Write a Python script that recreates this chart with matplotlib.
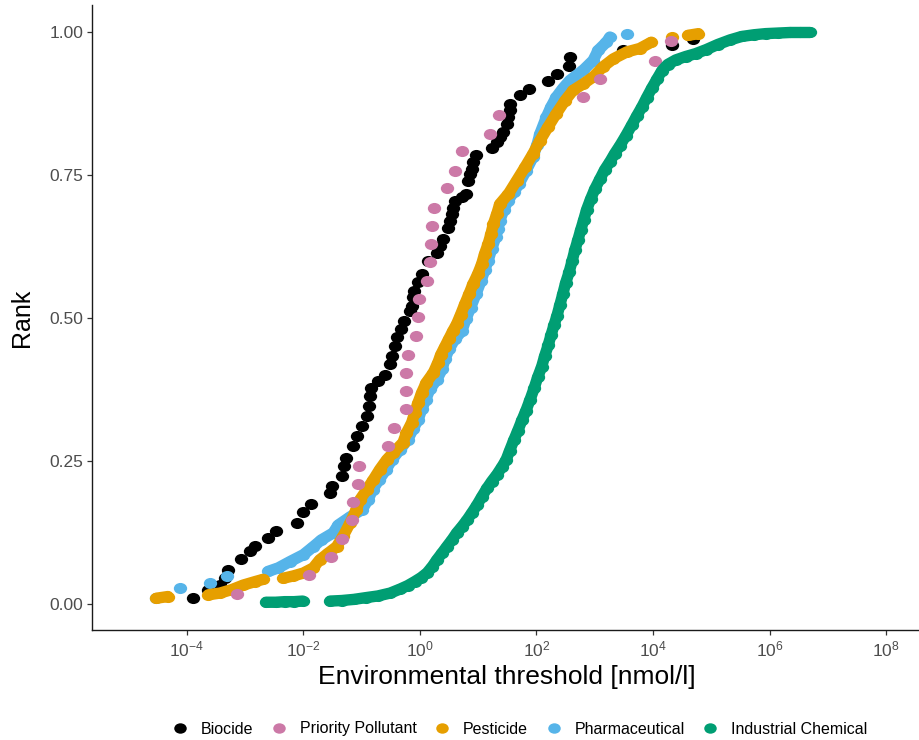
import numpy as np
import matplotlib
matplotlib.use("Agg")
import matplotlib.pyplot as plt
from matplotlib.path import Path
from matplotlib.transforms import Affine2D
from matplotlib.lines import Line2D
from matplotlib.ticker import FixedLocator, LogFormatterSciNotation, NullLocator

plt.rcParams['font.family'] = ['Liberation Sans', 'DejaVu Sans']
plt.rcParams['mathtext.default'] = 'regular'
plt.rcParams['axes.unicode_minus'] = False

# log10 of the environmental threshold [nmol/l] and the rank of each compound
biocide_log = [-3.89, -3.63, -3.43, -3.34, -3.29, -3.06, -2.91, -2.83, -2.61, -2.47,
               -2.10, -2.00, -1.86, -1.55, -1.50, -1.34, -1.30, -1.26, -1.14, -1.08,
               -1.00, -0.91, -0.87, -0.86, -0.83, -0.71, -0.60, -0.51, -0.48, -0.43,
               -0.40, -0.33, -0.28, -0.17, -0.14, -0.11, -0.10, -0.03, 0.03, 0.14,
               0.29, 0.34, 0.40, 0.49, 0.52, 0.55, 0.57, 0.60, 0.72, 0.79,
               0.83, 0.86, 0.89, 0.92, 0.97, 1.23, 1.32, 1.37, 1.43, 1.49,
               1.52, 1.55, 1.55, 1.72, 1.88, 2.20, 2.35, 2.55, 2.57, 3.49,
               4.32, 4.69]
biocide_rank = [0.010, 0.025, 0.033, 0.045, 0.060, 0.078, 0.092, 0.102, 0.115, 0.127,
                0.141, 0.160, 0.175, 0.194, 0.206, 0.223, 0.241, 0.255, 0.276, 0.293,
                0.311, 0.328, 0.346, 0.363, 0.378, 0.390, 0.401, 0.419, 0.433, 0.451,
                0.466, 0.480, 0.495, 0.512, 0.521, 0.537, 0.547, 0.562, 0.576, 0.600,
                0.614, 0.626, 0.638, 0.658, 0.670, 0.682, 0.693, 0.705, 0.711, 0.717,
                0.740, 0.752, 0.760, 0.772, 0.784, 0.797, 0.807, 0.816, 0.825, 0.839,
                0.851, 0.863, 0.874, 0.889, 0.900, 0.914, 0.927, 0.941, 0.956, 0.968,
                0.977, 0.987]

priority_log = [-3.14, -1.91, -1.53, -1.33, -1.16, -1.15, -1.06, -1.04, -0.54, -0.44,
                -0.24, -0.23, -0.23, -0.20, -0.07, -0.03, -0.02, 0.13, 0.17, 0.19,
                0.20, 0.25, 0.46, 0.60, 0.72, 1.20, 1.35, 2.80, 3.09, 4.03, 4.30]
priority_rank = [0.017, 0.051, 0.082, 0.113, 0.146, 0.178, 0.210, 0.242, 0.276, 0.308,
                 0.340, 0.372, 0.404, 0.436, 0.468, 0.501, 0.533, 0.565, 0.597, 0.629,
                 0.661, 0.693, 0.727, 0.757, 0.791, 0.822, 0.854, 0.887, 0.918, 0.950,
                 0.984]

pesticide_log = [-4.52, -4.32, -3.63, -3.43, -3.23, -3.03, -2.83, -2.69, -2.34, -2.17,
                 -2.00, -1.83, -1.72, -1.57, -1.43, -1.32, -1.20, -1.09, -1.03, -0.91,
                 -0.80, -0.69, -0.57, -0.46, -0.29, -0.23, -0.14, -0.09, -0.03, 0.03,
                 0.11, 0.23, 0.31, 0.36, 0.43, 0.50, 0.57, 0.63, 0.70, 0.77,
                 0.84, 0.91, 0.99, 1.06, 1.11, 1.17, 1.22, 1.26, 1.32, 1.37,
                 1.52, 1.66, 1.80, 1.94, 2.06, 2.20, 2.34, 2.49, 2.63, 2.80,
                 2.97, 3.14, 3.32, 3.55, 3.77, 3.97, 4.32, 4.60, 4.78]
pesticide_rank = [0.010, 0.013, 0.016, 0.019, 0.025, 0.033, 0.039, 0.043, 0.045, 0.049,
                  0.054, 0.063, 0.077, 0.089, 0.100, 0.118, 0.141, 0.165, 0.182, 0.200,
                  0.217, 0.235, 0.252, 0.264, 0.282, 0.299, 0.317, 0.334, 0.352, 0.369,
                  0.387, 0.404, 0.422, 0.436, 0.450, 0.464, 0.478, 0.489, 0.506, 0.524,
                  0.541, 0.559, 0.576, 0.594, 0.612, 0.629, 0.647, 0.664, 0.682, 0.699,
                  0.717, 0.740, 0.763, 0.787, 0.810, 0.834, 0.857, 0.880, 0.898, 0.909,
                  0.921, 0.939, 0.953, 0.965, 0.971, 0.982, 0.991, 0.994, 0.997]

pharma_log = [-4.52, -4.12, -3.60, -3.31, -2.60, -2.43, -2.23, -2.00, -1.83, -1.69,
              -1.49, -1.40, -1.20, -0.99, -0.89, -0.81, -0.70, -0.58, -0.48, -0.34,
              -0.21, -0.12, -0.03, 0.03, 0.10, 0.17, 0.29, 0.38, 0.43, 0.50,
              0.60, 0.72, 0.79, 0.87, 0.96, 1.05, 1.11, 1.17, 1.23, 1.30,
              1.34, 1.37, 1.44, 1.51, 1.61, 1.70, 1.82, 1.94, 2.01, 2.06,
              2.17, 2.25, 2.34, 2.45, 2.57, 2.80, 2.97, 3.06, 3.20, 3.26,
              3.55]
pharma_rank = [0.010, 0.028, 0.036, 0.048, 0.057, 0.063, 0.074, 0.086, 0.100, 0.112,
               0.124, 0.138, 0.152, 0.165, 0.182, 0.200, 0.217, 0.235, 0.252, 0.270,
               0.287, 0.305, 0.322, 0.340, 0.357, 0.375, 0.392, 0.410, 0.428, 0.445,
               0.463, 0.477, 0.498, 0.518, 0.541, 0.565, 0.583, 0.600, 0.620, 0.641,
               0.655, 0.670, 0.689, 0.705, 0.720, 0.734, 0.757, 0.781, 0.803, 0.822,
               0.851, 0.869, 0.886, 0.901, 0.915, 0.933, 0.950, 0.968, 0.982, 0.991,
               0.997]

industrial_log = [-2.64, -2.47, -2.32, -2.16, -2.01, -1.54, -1.34, -1.13, -0.93, -0.72,
                  -0.51, -0.34, -0.21, -0.09, 0.02, 0.12, 0.21, 0.29, 0.38, 0.46,
                  0.55, 0.63, 0.72, 0.81, 0.89, 0.98, 1.06, 1.15, 1.23, 1.32,
                  1.41, 1.48, 1.54, 1.61, 1.68, 1.75, 1.82, 1.89, 1.96, 2.02,
                  2.09, 2.14, 2.20, 2.25, 2.30, 2.35, 2.40, 2.45, 2.50, 2.56,
                  2.61, 2.66, 2.71, 2.76, 2.81, 2.86, 2.93, 3.00, 3.09, 3.17,
                  3.26, 3.34, 3.43, 3.53, 3.64, 3.72, 3.81, 3.89, 3.98, 4.07,
                  4.15, 4.25, 4.39, 4.56, 4.73, 4.91, 5.11, 5.32, 5.52, 5.73,
                  5.93, 6.14, 6.35, 6.52, 6.69]
industrial_rank = [0.003, 0.003, 0.004, 0.004, 0.005, 0.005, 0.006, 0.008, 0.011, 0.014,
                   0.019, 0.026, 0.032, 0.039, 0.046, 0.054, 0.065, 0.077, 0.089, 0.100,
                   0.112, 0.124, 0.135, 0.147, 0.159, 0.173, 0.187, 0.202, 0.214, 0.226,
                   0.240, 0.252, 0.268, 0.286, 0.303, 0.321, 0.338, 0.357, 0.377, 0.396,
                   0.415, 0.433, 0.452, 0.470, 0.487, 0.503, 0.522, 0.541, 0.561, 0.580,
                   0.599, 0.619, 0.636, 0.654, 0.671, 0.689, 0.708, 0.725, 0.743, 0.759,
                   0.773, 0.787, 0.801, 0.818, 0.838, 0.853, 0.869, 0.885, 0.902, 0.918,
                   0.932, 0.943, 0.951, 0.957, 0.962, 0.969, 0.978, 0.986, 0.992, 0.995,
                   0.997, 0.998, 0.999, 0.999, 0.999]

groups = ["Biocide", "Priority Pollutant", "Pesticide", "Pharmaceutical", "Industrial Chemical"]
colors = ["#000000", "#CC79A7", "#E69F00", "#56B4E9", "#009E73"]

# slightly wide dots
dot = Path.unit_circle().transformed(Affine2D().scale(1.2, 1.0))


def plot_dots(ax, logv, rank, color, z, band=False):
    logv = np.asarray(logv)
    rank = np.asarray(rank)
    if band:
        # densely packed points merge into a thick band; split where there are gaps
        cuts = np.where(np.diff(logv) > 0.25)[0] + 1
        for lv, rk in zip(np.split(logv, cuts), np.split(rank, cuts)):
            if len(lv) > 1:
                ax.plot(10.0 ** lv, rk, color=color, lw=8.2, solid_capstyle='round',
                        solid_joinstyle='round', zorder=z)
    ax.scatter(10.0 ** logv, rank, marker=dot, s=92, color=color, linewidths=0, zorder=z)


fig = plt.figure(figsize=(9.2, 7.4), dpi=100)
ax = fig.add_axes([0.1003, 0.1486, 0.8997, 0.8446])

plot_dots(ax, biocide_log, biocide_rank, colors[0], 2)
plot_dots(ax, pharma_log, pharma_rank, colors[3], 3, band=True)
plot_dots(ax, pesticide_log, pesticide_rank, colors[2], 4, band=True)
plot_dots(ax, priority_log, priority_rank, colors[1], 5)
plot_dots(ax, industrial_log, industrial_rank, colors[4], 6, band=True)

ax.set_xscale('log')
ax.set_xlim(10 ** -5.62, 10 ** 8.58)
ax.set_ylim(-0.0456, 1.047)
ax.xaxis.set_major_locator(FixedLocator([1e-4, 1e-2, 1e0, 1e2, 1e4, 1e6, 1e8]))
ax.xaxis.set_major_formatter(LogFormatterSciNotation())
ax.xaxis.set_minor_locator(NullLocator())
ax.set_yticks([0, 0.25, 0.5, 0.75, 1.0])
ax.set_yticklabels(["0.00", "0.25", "0.50", "0.75", "1.00"])

for side in ['top', 'right']:
    ax.spines[side].set_visible(False)
for side in ['left', 'bottom']:
    ax.spines[side].set_linewidth(1.0)
    ax.spines[side].set_color('#1a1a1a')
ax.tick_params(axis='both', length=3.5, width=0.9, color='#333333',
               labelsize=12.5, labelcolor='#4d4d4d', pad=3)

fig.text(507 / 920, 1 - 677 / 740, "Environmental threshold [nmol/l]",
         ha='center', va='center', fontsize=19)
fig.text(22 / 920, 1 - 318 / 740, "Rank", rotation=90, ha='center', va='center', fontsize=18)

handles = [Line2D([], [], marker=dot, linestyle='', markersize=9.0, color=c,
                  markeredgewidth=0) for c in colors]
fig.legend(handles, groups, loc='center', bbox_to_anchor=(519 / 920, 1 - 729 / 740),
           ncol=5, frameon=False, fontsize=11.5, handletextpad=0.7, columnspacing=1.0,
           handlelength=1.2, borderpad=0.1)

fig.savefig("out.png", dpi=100)
